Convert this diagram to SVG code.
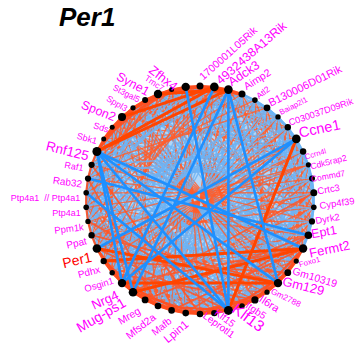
<svg xmlns="http://www.w3.org/2000/svg" width="357" height="345" viewBox="0 0 357 345">
<style>
  text { font-family: "Liberation Sans", Arial, sans-serif; }
  .lb { fill: #FF00FF; text-anchor: middle; dominant-baseline: central; }
  .title { font-size: 26px; font-weight: bold; font-style: italic; fill: #000; }
  .dot { fill: #000; }
  .mo { stroke: #FF5C2B; stroke-opacity: 0.8; stroke-width: 1.4; fill: none; }
  .mb { stroke: #6FB3F3; stroke-opacity: 0.85; stroke-width: 1.4; fill: none; }
  .ro { stroke: #FF4F1F; stroke-opacity: 0.9; stroke-width: 2.2; fill: none; stroke-linejoin: round; }
  .rb { stroke: #6DB4F4; stroke-opacity: 0.9; stroke-width: 2; fill: none; stroke-linejoin: round; }
  .md { stroke: #FF5526; stroke-opacity: 0.85; stroke-width: 1.8; fill: none; }
  .to { stroke: #FF4500; stroke-width: 3; fill: none; stroke-linecap: round; }
  .tb { stroke: #1E90FF; stroke-width: 2.6; fill: none; stroke-linecap: round; }
</style>
<defs>
  <!-- three chord fans from the first node; rotated copies fill the ring -->
  <g id="fanA">
    <path class="mo" d="M96.9,151.5L185.7,86.9M96.9,151.5L278,116.9M96.9,151.5L308.4,235.2"/>
    <path class="mb" d="M96.9,151.5L214.3,86.9M96.9,151.5L242,94M96.9,151.5L308.4,164.8M96.9,151.5L313.8,192.8"/>
  </g>
  <g id="fanB">
    <path class="mo" d="M96.9,151.5L200,86M96.9,151.5L296.3,138.9M96.9,151.5L313.8,207.2"/>
    <path class="mb" d="M96.9,151.5L254.9,100.1M96.9,151.5L267,107.8M96.9,151.5L312,178.6M96.9,151.5L312,221.4"/>
  </g>
  <g id="fanC">
    <path class="mo" d="M96.9,151.5L228.4,89.6M96.9,151.5L287.8,127.3M96.9,151.5L303.1,248.5"/>
    <path class="mb" d="M96.9,151.5L171.6,89.6M96.9,151.5L303.1,151.5M96.9,151.5L313.8,192.8M96.9,151.5L308.4,235.2"/>
  </g>
  <g id="rA">
    <use href="#fanA"/><use href="#fanA" transform="rotate(7.2 200 200)"/><use href="#fanA" transform="rotate(14.4 200 200)"/><use href="#fanA" transform="rotate(21.6 200 200)"/><use href="#fanA" transform="rotate(28.8 200 200)"/>
  </g>
  <g id="rB">
    <use href="#fanB"/><use href="#fanB" transform="rotate(7.2 200 200)"/><use href="#fanB" transform="rotate(14.4 200 200)"/><use href="#fanB" transform="rotate(21.6 200 200)"/><use href="#fanB" transform="rotate(28.8 200 200)"/>
  </g>
  <g id="rC">
    <use href="#fanC"/><use href="#fanC" transform="rotate(7.2 200 200)"/><use href="#fanC" transform="rotate(14.4 200 200)"/><use href="#fanC" transform="rotate(21.6 200 200)"/><use href="#fanC" transform="rotate(28.8 200 200)"/>
  </g>
</defs>

<text class="title" x="59" y="26">Per1</text>

<g id="connectors">
  <!-- ring of nodes, filled as the backdrop of the weak links -->
  <polygon id="ring" fill="#B2D7F8" points="96.9,151.5 103.7,138.9 112.2,127.3 122,116.9 133,107.8 145.1,100.1 158,94 171.6,89.6 185.7,86.9 200,86 214.3,86.9 228.4,89.6 242,94 254.9,100.1 267,107.8 278,116.9 287.8,127.3 296.3,138.9 303.1,151.5 308.4,164.8 312,178.6 313.8,192.8 313.8,207.2 312,221.4 308.4,235.2 303.1,248.5 296.3,261.1 287.8,272.7 278,283.1 267,292.2 254.9,299.9 242,306 228.4,310.4 214.3,313.1 200,314 185.7,313.1 171.6,310.4 158,306 145.1,299.9 133,292.2 122,283.1 112.2,272.7 103.7,261.1 96.9,248.5 91.6,235.2 88,221.4 86.2,207.2 86.2,192.8 88,178.6 91.6,164.8"/>
  <g id="mesh">
    <use href="#rA"/>
    <use href="#rB" transform="rotate(36 200 200)"/>
    <use href="#rC" transform="rotate(72 200 200)"/>
    <use href="#rA" transform="rotate(108 200 200)"/>
    <use href="#rB" transform="rotate(144 200 200)"/>
    <use href="#rC" transform="rotate(180 200 200)"/>
    <use href="#rA" transform="rotate(216 200 200)"/>
    <use href="#rB" transform="rotate(252 200 200)"/>
    <use href="#rC" transform="rotate(288 200 200)"/>
    <use href="#rA" transform="rotate(324 200 200)"/>
  </g>
  <!-- short links between neighbours along the ring -->
  <g id="rim">
    <polyline class="rb" points="242,94 254.9,100.1 267,107.8 278,116.9 287.8,127.3 296.3,138.9 303.1,151.5 308.4,164.8 312,178.6 313.8,192.8 313.8,207.2 312,221.4 308.4,235.2 303.1,248.5"/>
    <polyline class="rb" points="254.9,100.1 278,116.9 296.3,138.9 308.4,164.8 313.8,192.8 312,221.4 303.1,248.5"/>
    <polyline class="rb" points="242,94 267,107.8 287.8,127.3 303.1,151.5 312,178.6 313.8,207.2 308.4,235.2"/>
    <polyline class="rb" points="254.9,100.1 287.8,127.3 308.4,164.8 313.8,207.2 303.1,248.5"/>
    <polyline class="rb" points="96.9,248.5 88,221.4 86.2,192.8 91.6,164.8"/>
    <polyline class="rb" points="91.6,235.2 86.2,207.2 88,178.6 96.9,151.5"/>
    <polyline class="ro" points="96.9,151.5 103.7,138.9 112.2,127.3 122,116.9 133,107.8 145.1,100.1 158,94 171.6,89.6 185.7,86.9 200,86 214.3,86.9 228.4,89.6 242,94"/>
    <polyline class="ro" points="96.9,151.5 112.2,127.3 133,107.8 158,94 185.7,86.9 214.3,86.9 242,94"/>
    <polyline class="ro" points="103.7,138.9 122,116.9 145.1,100.1 171.6,89.6 200,86 228.4,89.6"/>
    <polyline class="ro" points="96.9,151.5 122,116.9 158,94 200,86 242,94"/>
    <polyline class="ro" points="103.7,138.9 133,107.8 171.6,89.6 214.3,86.9"/>
    <polyline class="ro" points="112.2,127.3 145.1,100.1 185.7,86.9 228.4,89.6"/>
    <polyline class="ro" points="96.9,151.5 133,107.8 185.7,86.9 242,94"/>
    <polyline class="ro" points="103.7,138.9 158,94 228.4,89.6"/>
    <polyline class="ro" points="112.2,127.3 171.6,89.6 242,94"/>
    <polyline class="ro" points="303.1,248.5 296.3,261.1 287.8,272.7 278,283.1 267,292.2 254.9,299.9 242,306 228.4,310.4 214.3,313.1 200,314 185.7,313.1 171.6,310.4 158,306 145.1,299.9 133,292.2 122,283.1 112.2,272.7 103.7,261.1 96.9,248.5 91.6,235.2 88,221.4 86.2,207.2 86.2,192.8 88,178.6 91.6,164.8 96.9,151.5"/>
    <polyline class="ro" points="303.1,248.5 287.8,272.7 267,292.2 242,306 214.3,313.1 185.7,313.1 158,306 133,292.2 112.2,272.7 96.9,248.5"/>
    <polyline class="ro" points="296.3,261.1 278,283.1 254.9,299.9 228.4,310.4 200,314 171.6,310.4 145.1,299.9 122,283.1 103.7,261.1"/>
    <polyline class="ro" points="303.1,248.5 278,283.1 242,306 200,314 158,306 122,283.1 96.9,248.5"/>
    <polyline class="ro" points="296.3,261.1 267,292.2 228.4,310.4 185.7,313.1 145.1,299.9 112.2,272.7"/>
    <polyline class="ro" points="287.8,272.7 254.9,299.9 214.3,313.1 171.6,310.4 133,292.2 103.7,261.1"/>
    <polyline class="ro" points="303.1,248.5 254.9,299.9 185.7,313.1 122,283.1"/>
    <polyline class="ro" points="287.8,272.7 228.4,310.4 158,306 103.7,261.1"/>
    <polyline class="ro" points="267,292.2 200,314 133,292.2"/>
  </g>
  <!-- mid-weight positive links across the lower half -->
  <g id="mid-pos">
    <path class="md" d="M96.9,248.5L228.4,310.4M122,283.1L303.1,248.5M103.7,261.1L287.8,272.7M145.1,299.9L308.4,235.2M112.2,272.7L254.9,299.9M171.6,310.4L303.1,248.5M91.6,235.2L278,283.1M133,292.2L313.8,192.8M185.7,313.1L308.4,235.2M88,221.4L242,306M91.6,164.8L200,314M88,178.6L158,306"/>
  </g>
  <g id="strong-pos">
    <path class="to" d="M96.9,151.5L214.3,86.9"/>
    <path class="to" d="M96.9,151.5L228.4,89.6"/>
    <path class="to" d="M122,116.9L214.3,86.9"/>
    <path class="to" d="M158,94L228.4,89.6"/>
    <path class="to" d="M296.3,138.9L228.4,310.4"/>
    <path class="to" d="M122,283.1L278,283.1"/>
    <path class="to" d="M133,292.2L303.1,248.5"/>
    <path class="to" d="M103.7,261.1L303.1,248.5"/>
    <path class="to" d="M96.9,248.5L278,283.1"/>
  </g>
  <g id="strong-neg">
    <path class="tb" d="M96.9,151.5L278,283.1"/>
    <path class="tb" d="M96.9,151.5L228.4,310.4"/>
    <path class="tb" d="M96.9,151.5L303.1,248.5"/>
    <path class="tb" d="M96.9,151.5L122,283.1"/>
    <path class="tb" d="M96.9,151.5L133,292.2"/>
    <path class="tb" d="M228.4,89.6L278,283.1"/>
    <path class="tb" d="M228.4,89.6L228.4,310.4"/>
    <path class="tb" d="M214.3,86.9L122,283.1"/>
    <path class="tb" d="M296.3,138.9L122,283.1"/>
    <path class="tb" d="M228.4,310.4L86.2,192.8"/>
    <path class="tb" d="M228.4,89.6L133,292.2"/>
    <path class="tb" d="M185.7,86.9L228.4,310.4"/>
    <path class="tb" d="M88,178.6L308.4,235.2"/>
    <path class="tb" d="M96.9,248.5L296.3,138.9"/>
  </g>
</g>

<g id="nodes">
  <g id="n-Rnf125"><circle class="dot" cx="96.9" cy="151.5" r="4.5"/><text class="lb" x="67.5" y="151" font-size="13.5" transform="rotate(14 67.5 151)">Rnf125</text></g>
  <g id="n-Sbk1"><circle class="dot" cx="103.7" cy="138.9" r="2.5"/><text class="lb" x="87" y="138.5" font-size="9" transform="rotate(16 87 138.5)">Sbk1</text></g>
  <g id="n-Sds"><circle class="dot" cx="112.2" cy="127.3" r="2.5"/><text class="lb" x="101" y="127.5" font-size="9" transform="rotate(18 101 127.5)">Sds</text></g>
  <g id="n-Spon2"><circle class="dot" cx="122" cy="116.9" r="4"/><text class="lb" x="98.5" y="111" font-size="12.5" transform="rotate(22 98.5 111)">Spon2</text></g>
  <g id="n-Sppl3"><circle class="dot" cx="133" cy="107.8" r="2.6"/><text class="lb" x="117" y="103.5" font-size="8.8" transform="rotate(31 117 103.5)">Sppl3</text></g>
  <g id="n-St3gal5"><circle class="dot" cx="145.1" cy="100.1" r="3"/><text class="lb" x="126.5" y="93.5" font-size="8.6" transform="rotate(27 126.5 93.5)">St3gal5</text></g>
  <g id="n-Syne1"><circle class="dot" cx="158" cy="94" r="4.2"/><text class="lb" x="133" y="84" font-size="12.5" transform="rotate(29 133 84)">Syne1</text></g>
  <g id="n-Tmc7"><circle class="dot" cx="171.6" cy="89.6" r="2.5"/><text class="lb" x="154.5" y="83" font-size="8.5" transform="rotate(34 154.5 83)">Tmc7</text></g>
  <g id="n-Zfhx4"><circle class="dot" cx="185.7" cy="86.9" r="4.2"/><text class="lb" x="163.5" y="78" font-size="12.8" transform="rotate(38 163.5 78)">Zfhx4</text></g>
  <g id="n-1700001L05Rik"><circle class="dot" cx="200" cy="86" r="3.5"/><text class="lb" x="228" y="53" font-size="10.5" transform="rotate(-42 228 53)">1700001L05Rik</text></g>
  <g id="n-4932438A13Rik"><circle class="dot" cx="214.3" cy="86.9" r="4.3"/><text class="lb" x="251.5" y="53" font-size="12.4" transform="rotate(-41 251.5 53)">4932438A13Rik</text></g>
  <g id="n-Adck3"><circle class="dot" cx="228.4" cy="89.6" r="4.3"/><text class="lb" x="244" y="73.5" font-size="12.5" transform="rotate(-34 244 73.5)">Adck3</text></g>
  <g id="n-Aimp2"><circle class="dot" cx="242" cy="94" r="3.5"/><text class="lb" x="257" y="79" font-size="10.5" transform="rotate(-32 257 79)">Aimp2</text></g>
  <g id="n-Atl2"><circle class="dot" cx="254.9" cy="100.1" r="2.8"/><text class="lb" x="263" y="92.5" font-size="8.5" transform="rotate(-37 263 92.5)">Atl2</text></g>
  <g id="n-B130006D01Rik"><circle class="dot" cx="267" cy="107.8" r="3.4"/><text class="lb" x="305" y="85.5" font-size="11" transform="rotate(-26 305 85.5)">B130006D01Rik</text></g>
  <g id="n-Baiap2l1"><circle class="dot" cx="278" cy="116.9" r="2.7"/><text class="lb" x="293.5" y="106" font-size="7.8" transform="rotate(-27 293.5 106)">Baiap2l1</text></g>
  <g id="n-C030037D09Rik"><circle class="dot" cx="287.8" cy="127.3" r="3.2"/><text class="lb" x="321" y="112" font-size="9.2" transform="rotate(-19 321 112)">C030037D09Rik</text></g>
  <g id="n-Ccne1"><circle class="dot" cx="296.3" cy="138.9" r="4.3"/><text class="lb" x="319.5" y="128.5" font-size="14.5" transform="rotate(-12 319.5 128.5)">Ccne1</text></g>
  <g id="n-Ccrn4l"><circle class="dot" cx="303.1" cy="151.5" r="3.2"/><text class="lb" x="315.5" y="154" font-size="7.6" transform="rotate(-16 315.5 154)">Ccrn4l</text></g>
  <g id="n-Cdk5rap2"><circle class="dot" cx="308.4" cy="164.8" r="2.6"/><text class="lb" x="328.5" y="162" font-size="8.6" transform="rotate(-14 328.5 162)">Cdk5rap2</text></g>
  <g id="n-Commd7"><circle class="dot" cx="312" cy="178.6" r="3"/><text class="lb" x="328" y="176" font-size="8.5" transform="rotate(-10 328 176)">Commd7</text></g>
  <g id="n-Crtc3"><circle class="dot" cx="313.8" cy="192.8" r="3.5"/><text class="lb" x="328.5" y="189" font-size="9.5" transform="rotate(-10 328.5 189)">Crtc3</text></g>
  <g id="n-Cyp4f39"><circle class="dot" cx="313.8" cy="207.2" r="2.8"/><text class="lb" x="337" y="203" font-size="9.5" transform="rotate(-8 337 203)">Cyp4f39</text></g>
  <g id="n-Dyrk2"><circle class="dot" cx="312" cy="221.4" r="3.1"/><text class="lb" x="327.5" y="218.5" font-size="9.5" transform="rotate(-10 327.5 218.5)">Dyrk2</text></g>
  <g id="n-Ept1"><circle class="dot" cx="308.4" cy="235.2" r="3.8"/><text class="lb" x="324" y="232" font-size="12.5" transform="rotate(-10 324 232)">Ept1</text></g>
  <g id="n-Fermt2"><circle class="dot" cx="303.1" cy="248.5" r="4.2"/><text class="lb" x="329.5" y="249" font-size="13" transform="rotate(-12 329.5 249)">Fermt2</text></g>
  <g id="n-Foxo1"><circle class="dot" cx="296.3" cy="261.1" r="2.6"/><text class="lb" x="309.5" y="262" font-size="7.8" transform="rotate(-15 309.5 262)">Foxo1</text></g>
  <g id="n-Gm10319"><circle class="dot" cx="287.8" cy="272.7" r="3.4"/><text class="lb" x="315" y="277" font-size="10.5" transform="rotate(17 315 277)">Gm10319</text></g>
  <g id="n-Gm129"><circle class="dot" cx="278" cy="283.1" r="4.2"/><text class="lb" x="303.5" y="286" font-size="13" transform="rotate(14 303.5 286)">Gm129</text></g>
  <g id="n-Gm2788"><circle class="dot" cx="267" cy="292.2" r="2.6"/><text class="lb" x="286" y="297.5" font-size="8.4" transform="rotate(26 286 297.5)">Gm2788</text></g>
  <g id="n-Il6ra"><circle class="dot" cx="254.9" cy="299.9" r="3.6"/><text class="lb" x="269.5" y="303.5" font-size="11" transform="rotate(33 269.5 303.5)">Il6ra</text></g>
  <g id="n-Itgb5"><circle class="dot" cx="242" cy="306" r="2.8"/><text class="lb" x="256" y="310.5" font-size="10" transform="rotate(34 256 310.5)">Itgb5</text></g>
  <g id="n-Klf13"><circle class="dot" cx="228.4" cy="310.4" r="4.5"/><text class="lb" x="248.5" y="317.5" font-size="15.5" transform="rotate(37 248.5 317.5)">Klf13</text></g>
  <g id="n-Klf15"><circle class="dot" cx="214.3" cy="313.1" r="3.2"/><text class="lb" x="225" y="318" font-size="10" transform="rotate(37 225 318)">Klf15</text></g>
  <g id="n-Leprotl1"><circle class="dot" cx="200" cy="314" r="3.3"/><text class="lb" x="219" y="325" font-size="10" transform="rotate(36 219 325)">Leprotl1</text></g>
  <g id="n-Lpin1"><circle class="dot" cx="185.7" cy="313.1" r="3.3"/><text class="lb" x="176" y="331.5" font-size="11.5" transform="rotate(-40 176 331.5)">Lpin1</text></g>
  <g id="n-Mafb"><circle class="dot" cx="171.6" cy="310.4" r="3.3"/><text class="lb" x="161.5" y="326.5" font-size="10" transform="rotate(-38 161.5 326.5)">Mafb</text></g>
  <g id="n-Mfsd2a"><circle class="dot" cx="158" cy="306" r="3.3"/><text class="lb" x="140.5" y="326" font-size="10.5" transform="rotate(-38 140.5 326)">Mfsd2a</text></g>
  <g id="n-Mreg"><circle class="dot" cx="145.1" cy="299.9" r="3.4"/><text class="lb" x="129" y="315.5" font-size="10.5" transform="rotate(-30 129 315.5)">Mreg</text></g>
  <g id="n-Mug-ps1"><circle class="dot" cx="133" cy="292.2" r="4.3"/><text class="lb" x="101" y="315" font-size="14" transform="rotate(-30 101 315)">Mug-ps1</text></g>
  <g id="n-Nrg4"><circle class="dot" cx="122" cy="283.1" r="4.2"/><text class="lb" x="105" y="300" font-size="13" transform="rotate(-24 105 300)">Nrg4</text></g>
  <g id="n-Osgin1"><circle class="dot" cx="112.2" cy="272.7" r="2.7"/><text class="lb" x="99" y="284.5" font-size="9.5" transform="rotate(-17 99 284.5)">Osgin1</text></g>
  <g id="n-Pdhx"><circle class="dot" cx="103.7" cy="261.1" r="3.2"/><text class="lb" x="89" y="272" font-size="10" transform="rotate(-15 89 272)">Pdhx</text></g>
  <g id="n-Per1"><circle class="dot" cx="96.9" cy="248.5" r="4.3"/><text class="lb" x="77" y="260" font-size="14" style="fill:#FF0000" transform="rotate(-13 77 260)">Per1</text></g>
  <g id="n-Ppat"><circle class="dot" cx="91.6" cy="235.2" r="3.2"/><text class="lb" x="76.5" y="243" font-size="10" transform="rotate(-13 76.5 243)">Ppat</text></g>
  <g id="n-Ppm1k"><circle class="dot" cx="88" cy="221.4" r="2.7"/><text class="lb" x="69" y="228.5" font-size="9.5" transform="rotate(-7 69 228.5)">Ppm1k</text></g>
  <g id="n-Ptp4a1"><circle class="dot" cx="86.2" cy="207.2" r="2.8"/><text class="lb" x="66.5" y="213" font-size="9">Ptp4a1</text></g>
  <g id="n-Ptp4a1-Ptp4a1"><circle class="dot" cx="86.2" cy="192.8" r="2.8"/><text class="lb" x="45.5" y="198" font-size="9" xml:space="preserve">Ptp4a1  // Ptp4a1</text></g>
  <g id="n-Rab32"><circle class="dot" cx="88" cy="178.6" r="3.1"/><text class="lb" x="67.5" y="182" font-size="10" transform="rotate(8 67.5 182)">Rab32</text></g>
  <g id="n-Raf1"><circle class="dot" cx="91.6" cy="164.8" r="3.1"/><text class="lb" x="74" y="166.5" font-size="9" transform="rotate(10 74 166.5)">Raf1</text></g>
</g>
</svg>
